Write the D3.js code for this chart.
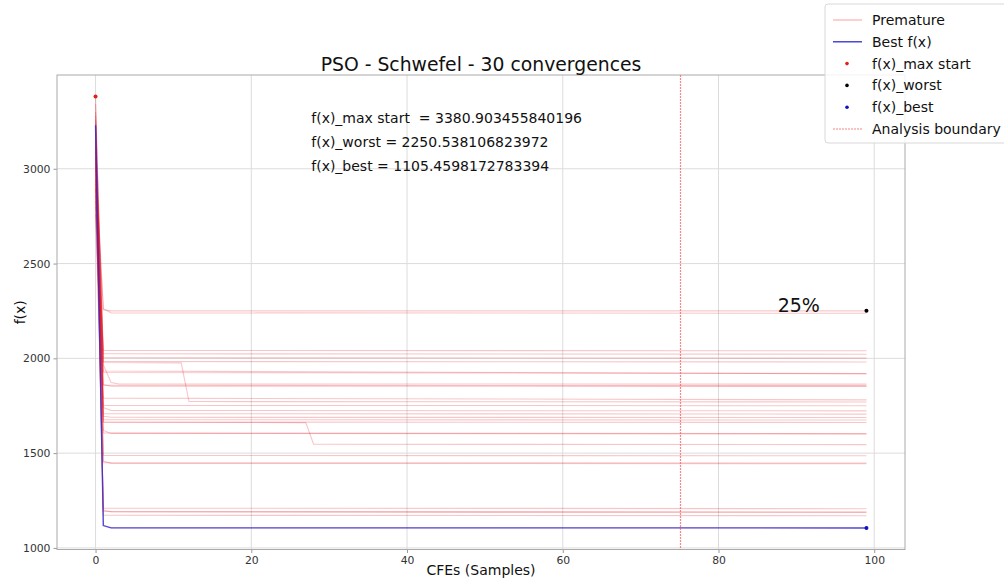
<!DOCTYPE html>
<html>
<head>
<meta charset="utf-8">
<script src="https://cdn.jsdelivr.net/npm/d3@7"></script>
<style>
  body { margin: 0; background: #fff; }
  svg { font-family: "DejaVu Sans", sans-serif; }
</style>
</head>
<body>
<div id="chart"></div>
<script>
// each run: [cfe, f(x)] breakpoints, flat between them
const runs = [
  [[0, 3050], [1, 2256], [2, 2250.5], [99, 2250.5]],
  [[0, 2950], [1, 2262], [2, 2240], [99, 2238]],
  [[0, 3120], [1, 2042], [99, 2040]],
  [[0, 2890], [1, 2024], [99, 2022]],
  [[0, 3300], [1, 2003], [99, 2001]],
  [[0, 3180], [1, 1983], [99, 1981]],
  [[0, 3260], [1, 1978], [11, 1976], [12, 1772], [99, 1770]],
  [[0, 2860], [1, 1925], [99, 1920]],
  [[0, 3340], [1, 1966], [2, 1872], [3, 1865], [99, 1864]],
  [[0, 3010], [1, 1862], [2, 1853], [99, 1852]],
  [[0, 2920], [1, 1858], [99, 1856]],
  [[0, 3200], [1, 1790], [99, 1781]],
  [[0, 3090], [1, 1752], [99, 1750]],
  [[0, 2800], [1, 1740], [2, 1725], [99, 1723]],
  [[0, 3150], [1, 1708], [99, 1706]],
  [[0, 2970], [1, 1695], [2, 1689], [99, 1688]],
  [[0, 3380.9], [1, 1676], [99, 1675]],
  [[0, 3240], [1, 1663], [27, 1661], [28, 1547], [99, 1545]],
  [[0, 2900], [1, 1664], [99, 1662]],
  [[0, 3060], [1, 1606], [99, 1603]],
  [[0, 2830], [1, 1620], [2, 1604], [99, 1601]],
  [[0, 3130], [1, 1488], [99, 1486]],
  [[0, 3280], [1, 1450], [99, 1448]],
  [[0, 2760], [1, 1458], [2, 1446], [99, 1444]],
  [[0, 3110], [1, 1210], [99, 1207]],
  [[0, 3000], [1, 1192], [99, 1189]],
  [[0, 3220], [1, 1172], [99, 1170]],
  [[0, 2940], [1, 1200], [2, 1190], [99, 1188]],
  [[0, 3030], [1, 1933], [99, 1918]],
  [[0, 3230], [1, 1118], [2, 1106], [99, 1105.4598172783394]]
];
const bestRun = runs[runs.length - 1];

const maxStart = [0, 3380.903455840196];
const worstEnd = [99, 2250.538106823972];
const bestEnd = [99, 1105.4598172783394];
const boundaryCfe = 75;

const xTicks = [0, 20, 40, 60, 80, 100];
const yTicks = [1000, 1500, 2000, 2500, 3000];

const infoLines = [
  "f(x)_max start  = 3380.903455840196",
  "f(x)_worst = 2250.538106823972",
  "f(x)_best = 1105.4598172783394"
];
const legendItems = [
  { label: "Premature", kind: "line", color: "red", opacity: 0.3 },
  { label: "Best f(x)", kind: "line", color: "#2a2ad8", opacity: 1 },
  { label: "f(x)_max start", kind: "dot", color: "#e0201a" },
  { label: "f(x)_worst", kind: "dot", color: "#000" },
  { label: "f(x)_best", kind: "dot", color: "#1010c0" },
  { label: "Analysis boundary", kind: "dotted", color: "#f06060" }
];

const W = 1004, H = 578;
const box = { left: 57, right: 905, top: 75, bottom: 549.5 };

const svg = d3.select("#chart").append("svg")
  .attr("width", W).attr("height", H);

// matplotlib style 5% margins
const x = d3.scaleLinear().domain([-4.95, 103.95]).range([box.left, box.right]);
const yLo = bestEnd[1], yHi = maxStart[1], pad = (yHi - yLo) * 0.05;
const y = d3.scaleLinear().domain([yLo - pad, yHi + pad]).range([box.bottom, box.top]);

// grid
svg.append("g")
  .selectAll("line").data(xTicks).enter().append("line")
  .attr("x1", d => x(d)).attr("x2", d => x(d))
  .attr("y1", box.top).attr("y2", box.bottom)
  .attr("stroke", "#dcdcdc").attr("stroke-width", 1);
svg.append("g")
  .selectAll("line").data(yTicks).enter().append("line")
  .attr("x1", box.left).attr("x2", box.right)
  .attr("y1", d => y(d)).attr("y2", d => y(d))
  .attr("stroke", "#dcdcdc").attr("stroke-width", 1);

// axes
const xAxis = svg.append("g")
  .attr("transform", "translate(0," + box.bottom + ")")
  .call(d3.axisBottom(x).tickValues(xTicks).tickFormat(d3.format("d")).tickSize(3.5).tickPadding(3));
const yAxis = svg.append("g")
  .attr("transform", "translate(" + box.left + ",0)")
  .call(d3.axisLeft(y).tickValues(yTicks).tickFormat(d3.format("d")).tickSize(3.5).tickPadding(3));
[xAxis, yAxis].forEach(a => {
  a.select(".domain").remove();
  a.selectAll(".tick line").attr("stroke", "#999");
  a.selectAll(".tick text").attr("fill", "#333")
    .style("font-family", "DejaVu Sans").style("font-size", "10.8px");
});

// frame
svg.append("rect")
  .attr("x", box.left).attr("y", box.top)
  .attr("width", box.right - box.left).attr("height", box.bottom - box.top)
  .attr("fill", "none").attr("stroke", "#aaa").attr("stroke-width", 1);

const line = d3.line().x(d => x(d[0])).y(d => y(d[1]));

// premature runs
svg.append("g")
  .selectAll("path").data(runs).enter().append("path")
  .attr("d", line)
  .attr("fill", "none")
  .attr("stroke", "#e0101e")
  .attr("stroke-opacity", 0.24)
  .attr("stroke-width", 1.1);

// best run
svg.append("path")
  .datum(bestRun)
  .attr("d", line)
  .attr("fill", "none")
  .attr("stroke", "#2a2ad8")
  .attr("stroke-opacity", 0.8)
  .attr("stroke-width", 1.4);

// analysis boundary
const bx = Math.round(x(boundaryCfe)) + 0.5;
svg.append("line")
  .attr("x1", bx).attr("x2", bx)
  .attr("y1", box.top).attr("y2", box.bottom)
  .attr("stroke", "#f06060").attr("stroke-opacity", 0.75)
  .attr("stroke-width", 1.2).attr("stroke-dasharray", "2,1");

// points
const pts = [
  { p: maxStart, color: "#e0201a" },
  { p: worstEnd, color: "#000" },
  { p: bestEnd, color: "#1010c0" }
];
svg.append("g")
  .selectAll("circle").data(pts).enter().append("circle")
  .attr("cx", d => x(d.p[0])).attr("cy", d => y(d.p[1]))
  .attr("r", 2).attr("fill", d => d.color);

// info text
svg.append("g")
  .selectAll("text").data(infoLines).enter().append("text")
  .attr("x", x(27.7))
  .attr("y", (d, i) => y(3244) + i * 24)
  .attr("font-size", "14px").attr("fill", "#111")
  .style("white-space", "pre")
  .text(d => d);

svg.append("text")
  .attr("x", x(87.6)).attr("y", y(worstEnd[1]) + 1)
  .attr("font-size", "19px").attr("fill", "#111")
  .text("25%");

// title and labels
svg.append("text")
  .attr("x", (box.left + box.right) / 2).attr("y", 71)
  .attr("text-anchor", "middle").attr("font-size", "18.8px").attr("fill", "#111")
  .text("PSO - Schwefel - 30 convergences");
svg.append("text")
  .attr("x", (box.left + box.right) / 2).attr("y", 575)
  .attr("text-anchor", "middle").attr("font-size", "14px").attr("fill", "#111")
  .text("CFEs (Samples)");
svg.append("text")
  .attr("transform", "translate(25," + ((box.top + box.bottom) / 2) + ") rotate(-90)")
  .attr("text-anchor", "middle").attr("font-size", "14px").attr("fill", "#111")
  .text("f(x)");

// legend
const lg = svg.append("g").attr("transform", "translate(825,4)");
lg.append("rect")
  .attr("width", 190).attr("height", 139).attr("rx", 3)
  .attr("fill", "#fff").attr("fill-opacity", 0.85)
  .attr("stroke", "#d8d8d8");
const items = lg.selectAll("g.item").data(legendItems).enter().append("g")
  .attr("transform", (d, i) => "translate(0," + (16 + i * 21.8) + ")");
items.filter(d => d.kind === "line").append("line")
  .attr("x1", 8).attr("x2", 37)
  .attr("stroke", d => d.color).attr("stroke-opacity", d => d.opacity)
  .attr("stroke-width", 1.3);
items.filter(d => d.kind === "dotted").append("line")
  .attr("x1", 8).attr("x2", 37)
  .attr("stroke", d => d.color).attr("stroke-opacity", 0.75)
  .attr("stroke-width", 1.2).attr("stroke-dasharray", "2,1");
items.filter(d => d.kind === "dot").append("circle")
  .attr("cx", 22).attr("r", 1.8).attr("fill", d => d.color);
items.append("text")
  .attr("x", 47).attr("dy", "0.35em")
  .attr("font-size", "14px").attr("fill", "#111")
  .text(d => d.label);
</script>
</body>
</html>
